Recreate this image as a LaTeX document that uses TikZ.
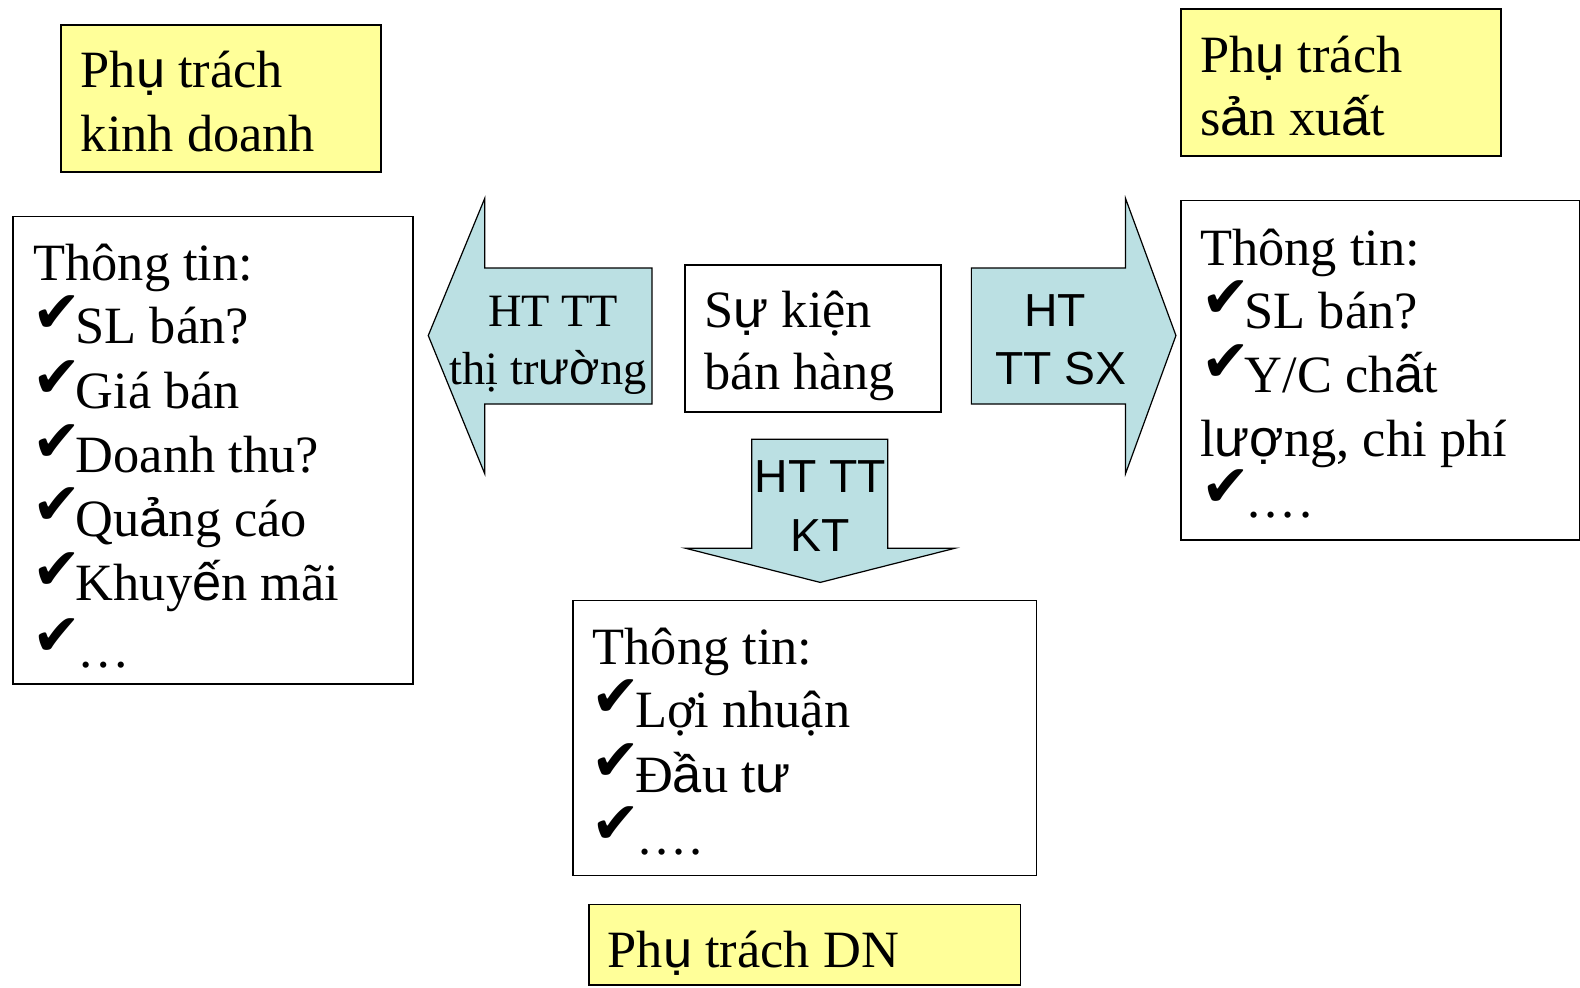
\documentclass[tikz,border=0pt]{standalone}
\usepackage{fontspec}
\setmainfont{Liberation Serif}
\newfontfamily\arial{Liberation Sans}
\newfontfamily\dejavu{DejaVu Sans}
\newcommand\sa[1]{{\arial #1}}
\newcommand\ck{\makebox[40pt][l]{\hspace*{-3pt}\raisebox{11pt}{\fontsize{58}{58}\selectfont\dejavu ✔}}}
\newcommand\fourdots{\hspace*{3pt}.\kern4pt.\kern4pt.\kern4pt.}
\definecolor{ylw}{RGB}{255,255,153}
\definecolor{arrblue}{RGB}{187,224,227}
\tikzset{
  wbox/.style={draw, line width=1.6pt, fill=white, inner sep=0pt, anchor=north west},
  ybox/.style={wbox, fill=ylw},
  arr/.style={draw, line width=1.2pt, fill=arrblue, line join=miter},
  tl/.style={anchor=base west, inner sep=0pt, font=\fontsize{52}{63}\selectfont},
  tc/.style={anchor=base, inner sep=0pt, font=\fontsize{46}{56}\selectfont},
  tcs/.style={anchor=base, inner sep=0pt, font=\fontsize{46}{56}\selectfont\arial},
}
\begin{document}
\begin{tikzpicture}[x=1pt,y=-1pt]
\useasboundingbox (0,0) rectangle (1568,980);

% yellow boxes
\node[ybox, minimum width=317pt, minimum height=146pt] (ykd) at (60,24) {};
\node[tl] (ykd1) at (80,87) {Ph\sa{ụ} trách};
\node[tl] (ykd2) at (80,150) {kinh doanh};

\node[ybox, minimum width=318pt, minimum height=146pt] (ysx) at (1171,8) {};
\node[tl] (ysx1) at (1191,72) {Ph\sa{ụ} trách};
\node[tl] (ysx2) at (1191,134) {s\sa{ả}n xu\sa{ấ}t};

\node[ybox, minimum width=428pt, minimum height=80pt] (ydn) at (584,897) {};
\node[tl] (ydn1) at (603,960) {Ph\sa{ụ} trách DN};

% left info box
\node[wbox, minimum width=397pt, minimum height=464pt] (lbox) at (12,214) {};
\node[tl] (l1) at (33,278) {Thông tin:};
\node[tl] (l2) at (35,341) {\ck SL bán?};
\node[tl] (l3) at (35,405) {\ck Giá bán};
\node[tl] (l4) at (35,469) {\ck Doanh thu?};
\node[tl] (l5) at (35,532) {\ck Qu\sa{ả}ng cáo};
\node[tl] (l6) at (35,596) {\ck Khuy\sa{ế}n mãi};
\node[tl] (l7) at (35,662) {\ck\hspace*{2pt}…};

% right info box
\node[wbox, minimum width=396pt, minimum height=337pt] (rbox) at (1171,198) {};
\node[tl] (r1) at (1191,263) {Thông tin:};
\node[tl] (r2) at (1195,326) {\ck SL bán?};
\node[tl] (r3) at (1195,390) {\ck Y/C ch\sa{ấ}t};
\node[tl] (r4) at (1191,453) {l\sa{ượ}ng, chi phí};
\node[tl] (r5) at (1195,514) {\ck\fourdots};

% bottom info box
\node[wbox, minimum width=460pt, minimum height=273pt] (bbox) at (568,595) {};
\node[tl] (b1) at (588,659) {Thông tin:};
\node[tl] (b2) at (590,722) {\ck Lợi nhuận};
\node[tl] (b3) at (590,786) {\ck Đ\sa{ầ}u t\sa{ư}};
\node[tl] (b4) at (590,848) {\ck\fourdots};

% centre box
\node[wbox, minimum width=254pt, minimum height=146pt] (cbox) at (679,262) {};
\node[tl] (c1) at (699,325) {S\sa{ự} kiện};
\node[tl] (c2) at (699,387) {bán hàng};

% block arrows
\draw[arr] (425,333) -- (481,197) -- (481,266) -- (647,266) -- (647,401) -- (481,401) -- (481,470) -- cycle;
\node[tc] (la1) at (549,324) {HT TT};
\node[tc] (la2) at (544,382) {thị tr\sa{ườ}ng};

\draw[arr] (964,266) -- (1117,266) -- (1117,197) -- (1167,333) -- (1117,470) -- (1117,401) -- (964,401) -- cycle;
\node[tcs] (ra1) at (1047,324) {HT};
\node[tcs] (ra2) at (1053,382) {TT SX};

\draw[arr] (746,436) -- (881,436) -- (881,544) -- (948,544) -- (814,578) -- (680,544) -- (746,544) -- cycle;
\node[tcs] (da1) at (814,489) {HT TT};
\node[tcs] (da2) at (814,547) {KT};
\end{tikzpicture}
\end{document}
